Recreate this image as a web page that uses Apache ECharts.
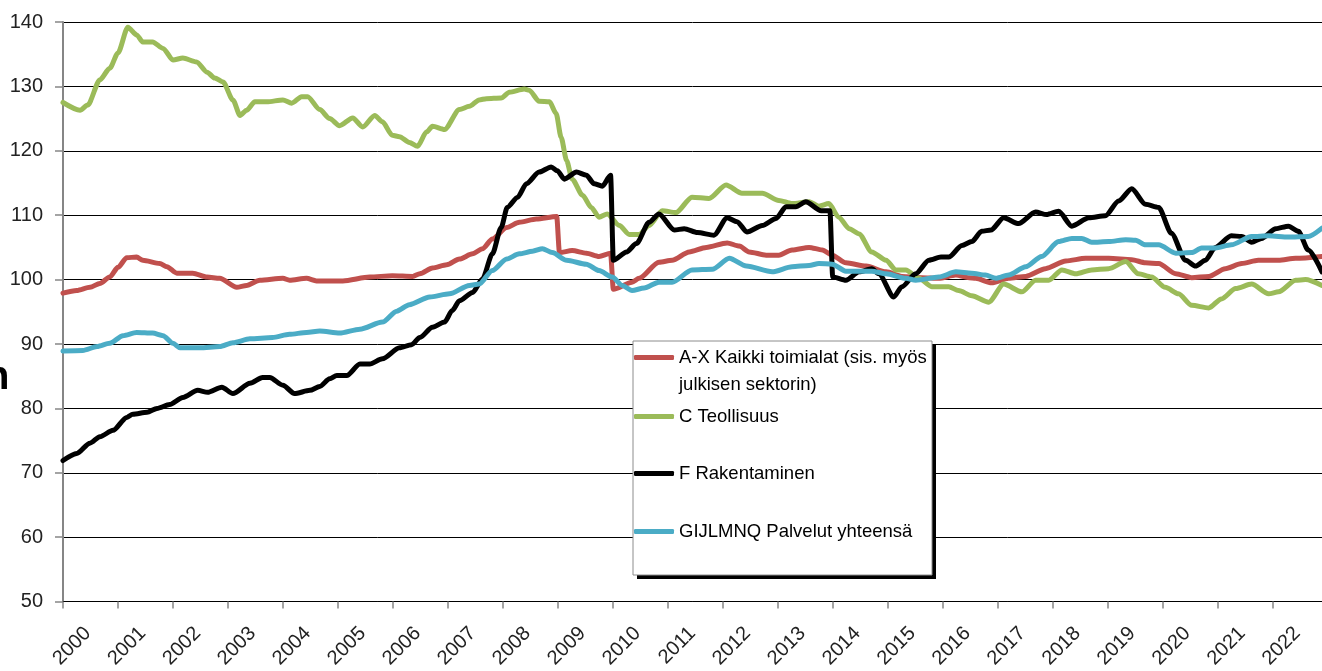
<!DOCTYPE html>
<html>
<head>
<meta charset="utf-8">
<script src="https://cdn.jsdelivr.net/npm/echarts@6/dist/echarts.min.js"></script>
<style>
  html, body { margin: 0; padding: 0; background: #fff; }
  #chart { width: 1322px; height: 671px; }
</style>
</head>
<body>
<div id="chart"></div>
<script>
// vuosiakselin tikit
var years = [];
for (var y = 2000; y <= 2022; y++) years.push(y);

var seriesNames = [
    'A-X Kaikki toimialat (sis. myös\njulkisen sektorin)',
    'C Teollisuus',
    'F Rakentaminen',
    'GIJLMNQ Palvelut yhteensä'
];

// [vuosi, indeksi]
var kaikkiData = [
    [2000.00, 97.9], [2000.25, 98.3], [2000.49, 98.8], [2000.67, 99.4], [2000.85, 100.4], [2001.00, 101.9],
    [2001.16, 103.4], [2001.34, 103.5], [2001.45, 103.0], [2001.76, 102.5], [2001.89, 102.0], [2002.07, 101.0],
    [2002.36, 101.0], [2002.62, 100.4], [2002.85, 100.2], [2003.16, 98.8], [2003.34, 99.1], [2003.58, 99.9],
    [2004.00, 100.2], [2004.12, 99.9], [2004.43, 100.2], [2004.61, 99.8], [2005.09, 99.8], [2005.58, 100.4],
    [2005.99, 100.6], [2006.36, 100.5], [2006.49, 100.9], [2006.72, 101.8], [2006.98, 102.3], [2007.21, 103.2],
    [2007.45, 104.0], [2007.63, 104.8], [2007.81, 106.3], [2008.07, 108.1], [2008.30, 108.9], [2008.61, 109.4],
    [2008.98, 109.8], [2009.03, 104.2], [2009.26, 104.5], [2009.52, 104.1], [2009.75, 103.6], [2009.96, 104.1],
    [2010.01, 98.5], [2010.35, 99.6], [2010.48, 100.2], [2010.84, 102.7], [2011.08, 103.0], [2011.39, 104.3],
    [2011.70, 105.0], [2012.08, 105.7], [2012.30, 105.2], [2012.48, 104.3], [2012.79, 103.8], [2013.02, 103.8],
    [2013.26, 104.6], [2013.57, 105.0], [2013.81, 104.6], [2013.99, 103.8], [2014.24, 102.6], [2014.61, 102.1],
    [2014.97, 101.2], [2015.26, 100.5], [2015.62, 100.3], [2015.93, 100.2], [2016.24, 100.7], [2016.48, 100.3],
    [2016.60, 100.2], [2016.89, 99.5], [2017.20, 100.2], [2017.51, 100.5], [2017.87, 101.7], [2018.24, 102.9],
    [2018.60, 103.3], [2019.02, 103.3], [2019.44, 103.1], [2019.69, 102.6], [2019.93, 102.5], [2020.24, 100.9],
    [2020.53, 100.3], [2020.84, 100.5], [2021.14, 101.7], [2021.44, 102.5], [2021.74, 103.0], [2022.11, 103.0],
    [2022.42, 103.3], [2022.90, 103.6]
];

var teollisuusData = [
    [2000.00, 127.5], [2000.31, 126.3], [2000.45, 127.1], [2000.67, 131.0], [2000.85, 132.8], [2001.00, 135.2],
    [2001.18, 139.2], [2001.34, 138.0], [2001.45, 136.9], [2001.63, 136.9], [2001.82, 135.9], [2002.00, 134.1],
    [2002.18, 134.4], [2002.43, 133.8], [2002.62, 132.2], [2002.76, 131.3], [2002.91, 130.7], [2003.09, 127.9],
    [2003.22, 125.5], [2003.34, 126.3], [2003.49, 127.6], [2003.71, 127.6], [2004.00, 127.9], [2004.16, 127.4],
    [2004.34, 128.4], [2004.45, 128.4], [2004.67, 126.4], [2004.85, 125.0], [2005.03, 123.9], [2005.27, 125.1],
    [2005.45, 123.7], [2005.67, 125.5], [2005.81, 124.5], [2005.99, 122.4], [2006.12, 122.2], [2006.30, 121.3],
    [2006.45, 120.7], [2006.61, 122.9], [2006.72, 123.8], [2006.94, 123.3], [2007.21, 126.4], [2007.39, 126.9],
    [2007.57, 127.9], [2007.70, 128.1], [2007.97, 128.2], [2008.12, 129.1], [2008.39, 129.6], [2008.48, 129.4],
    [2008.66, 127.7], [2008.85, 127.6], [2008.97, 125.8], [2009.06, 122.1], [2009.16, 118.5], [2009.26, 115.6],
    [2009.45, 113.1], [2009.61, 111.2], [2009.75, 109.7], [2009.90, 110.2], [2010.12, 108.4], [2010.30, 107.0],
    [2010.48, 107.0], [2010.66, 108.4], [2010.90, 110.7], [2011.15, 110.4], [2011.44, 112.8], [2011.75, 112.6],
    [2012.06, 114.7], [2012.35, 113.4], [2012.72, 113.4], [2013.02, 112.3], [2013.26, 111.8], [2013.57, 112.1],
    [2013.75, 111.4], [2013.93, 111.8], [2014.11, 109.7], [2014.30, 107.9], [2014.48, 107.1], [2014.71, 104.3],
    [2014.97, 103.0], [2015.15, 101.5], [2015.33, 101.5], [2015.57, 100.2], [2015.80, 98.9], [2016.11, 98.9],
    [2016.29, 98.3], [2016.53, 97.5], [2016.84, 96.5], [2017.11, 99.3], [2017.44, 98.1], [2017.69, 99.9],
    [2017.93, 99.9], [2018.17, 101.5], [2018.42, 100.9], [2018.71, 101.5], [2019.02, 101.7], [2019.33, 102.8],
    [2019.56, 100.9], [2019.80, 100.4], [2020.05, 98.8], [2020.29, 97.8], [2020.53, 96.0], [2020.84, 95.6],
    [2021.07, 97.0], [2021.33, 98.6], [2021.62, 99.3], [2021.93, 97.8], [2022.11, 98.1], [2022.42, 99.9],
    [2022.60, 100.0], [2022.90, 99.1]
];

var rakentaminenData = [
    [2000.00, 71.9], [2000.25, 73.0], [2000.49, 74.6], [2000.67, 75.6], [2000.91, 76.6], [2001.16, 78.6],
    [2001.27, 79.1], [2001.53, 79.4], [2001.71, 80.0], [2001.94, 80.6], [2002.18, 81.7], [2002.45, 82.8],
    [2002.63, 82.5], [2002.89, 83.3], [2003.09, 82.3], [2003.40, 83.9], [2003.63, 84.8], [2003.76, 84.8],
    [2004.00, 83.6], [2004.21, 82.3], [2004.49, 82.8], [2004.67, 83.4], [2004.85, 84.6], [2004.98, 85.1],
    [2005.16, 85.1], [2005.40, 86.9], [2005.58, 86.9], [2005.81, 87.7], [2006.12, 89.4], [2006.34, 89.9],
    [2006.49, 91.0], [2006.72, 92.6], [2006.94, 93.4], [2007.08, 95.2], [2007.21, 96.7], [2007.45, 98.0],
    [2007.63, 100.1], [2007.81, 104.0], [2007.97, 108.1], [2008.08, 111.2], [2008.27, 112.8], [2008.43, 114.9],
    [2008.66, 116.7], [2008.88, 117.5], [2008.99, 116.9], [2009.12, 115.6], [2009.34, 116.7], [2009.52, 116.2],
    [2009.66, 114.9], [2009.81, 114.5], [2009.96, 116.2], [2010.01, 103.0], [2010.25, 104.3], [2010.43, 105.6],
    [2010.66, 108.9], [2010.84, 110.2], [2011.12, 107.7], [2011.30, 107.9], [2011.54, 107.3], [2011.84, 106.9],
    [2012.08, 109.6], [2012.26, 109.0], [2012.44, 107.4], [2012.72, 108.4], [2012.97, 109.5], [2013.15, 111.3],
    [2013.33, 111.3], [2013.51, 112.1], [2013.79, 110.7], [2013.95, 110.7], [2014.00, 100.4], [2014.24, 99.9],
    [2014.48, 101.2], [2014.71, 101.7], [2014.84, 100.9], [2015.11, 97.3], [2015.26, 98.9], [2015.51, 100.9],
    [2015.75, 103.0], [2015.97, 103.5], [2016.11, 103.5], [2016.35, 105.3], [2016.53, 105.9], [2016.71, 107.5],
    [2016.88, 107.7], [2017.11, 109.6], [2017.38, 108.7], [2017.69, 110.5], [2017.89, 110.1], [2018.11, 110.6],
    [2018.35, 108.3], [2018.66, 109.6], [2018.96, 109.9], [2019.20, 112.2], [2019.44, 114.1], [2019.69, 111.7],
    [2019.93, 111.2], [2020.16, 107.2], [2020.42, 103.0], [2020.60, 102.1], [2020.78, 103.0], [2020.96, 105.0],
    [2021.25, 106.8], [2021.44, 106.7], [2021.62, 105.8], [2021.80, 106.4], [2022.06, 107.9], [2022.29, 108.3],
    [2022.47, 107.5], [2022.65, 104.6], [2022.90, 101.2]
];

var palvelutData = [
    [2000.00, 88.9], [2000.36, 89.0], [2000.62, 89.6], [2000.85, 90.1], [2001.09, 91.3], [2001.34, 91.8],
    [2001.63, 91.7], [2001.82, 91.3], [2002.00, 90.1], [2002.13, 89.4], [2002.49, 89.4], [2002.85, 89.6],
    [2003.09, 90.2], [2003.40, 90.8], [2003.81, 91.0], [2004.12, 91.5], [2004.43, 91.8], [2004.67, 92.0],
    [2005.03, 91.7], [2005.40, 92.3], [2005.81, 93.4], [2006.07, 95.1], [2006.30, 96.1], [2006.67, 97.3],
    [2007.03, 97.8], [2007.39, 99.1], [2007.57, 99.3], [2007.81, 101.4], [2008.07, 103.2], [2008.30, 104.0],
    [2008.54, 104.4], [2008.72, 104.8], [2008.90, 104.2], [2009.16, 103.0], [2009.52, 102.4], [2009.75, 101.4],
    [2009.99, 100.4], [2010.17, 99.1], [2010.35, 98.3], [2010.57, 98.7], [2010.84, 99.6], [2011.08, 99.6],
    [2011.44, 101.5], [2011.81, 101.6], [2012.12, 103.3], [2012.43, 102.1], [2012.90, 101.2], [2013.26, 102.0],
    [2013.57, 102.2], [2013.75, 102.5], [2013.99, 102.4], [2014.24, 101.3], [2014.71, 101.3], [2014.97, 100.9],
    [2015.33, 100.2], [2015.51, 99.9], [2015.93, 100.4], [2016.24, 101.2], [2016.53, 101.0], [2016.78, 100.7],
    [2016.97, 100.2], [2017.20, 100.7], [2017.51, 102.0], [2017.80, 103.6], [2018.11, 105.9], [2018.35, 106.4],
    [2018.53, 106.4], [2018.71, 105.8], [2019.02, 105.9], [2019.33, 106.2], [2019.51, 106.1], [2019.69, 105.4],
    [2019.93, 105.4], [2020.24, 104.1], [2020.53, 104.2], [2020.71, 104.9], [2020.96, 104.9], [2021.25, 105.4],
    [2021.62, 106.7], [2021.93, 106.8], [2022.29, 106.6], [2022.65, 106.7], [2022.90, 108.0]
];

var seriesData = [kaikkiData, teollisuusData, rakentaminenData, palvelutData];
var seriesColors = ['#C0504D', '#9BBB59', '#000000', '#4BACC6'];
// selitteen rivien yläreunat
var legendTops = [317, 405, 462, 520];

var lineSeries = seriesData.map(function (d, i) {
    return {
        name: seriesNames[i],
        type: 'line',
        data: d,
        showSymbol: false,
        smooth: 0.25,
        smoothMonotone: 'x',
        lineStyle: { width: 5, color: seriesColors[i], cap: 'round', join: 'round' },
        itemStyle: { color: seriesColors[i] },
        emphasis: { disabled: true },
        animation: false
    };
});

var legends = seriesNames.map(function (name, i) {
    var ts = { fontSize: 18.5, color: '#000', fontFamily: 'Liberation Sans, Arial, sans-serif' };
    var lg = {
        data: [name],
        orient: 'vertical',
        left: 634,
        top: legendTops[i],
        padding: 0,
        itemWidth: 40,
        itemHeight: 5,
        icon: 'roundRect',
        selectedMode: false,
        textStyle: ts,
        z: 20
    };
    if (i === 0) {
        // kaksirivinen teksti: tyhjä ylärivi pitää ensimmäisen rivin viivan kohdalla
        ts.lineHeight = 27;
        lg.formatter = function (n) { return ' \n' + n; };
    } else {
        ts.lineHeight = 23;
    }
    return lg;
});

var chart = echarts.init(document.getElementById('chart'));
chart.setOption({
    backgroundColor: '#fff',
    animation: false,
    textStyle: { fontFamily: 'Liberation Sans, Arial, sans-serif' },
    grid: { left: 63, right: 0, top: 22, bottom: 69 },
    xAxis: {
        type: 'value',
        min: 2000,
        max: 2022.9,
        interval: 1,
        splitLine: { show: false },
        axisLine: { lineStyle: { color: '#000', width: 1 } },
        axisTick: { show: true, length: 7, lineStyle: { color: '#868686', width: 1.5 }, customValues: years },
        axisLabel: {
            customValues: years,
            rotate: 45,
            fontSize: 20,
            color: '#222',
            margin: 4,
            verticalAlign: 'top',
            padding: [25, 0, 0, 0],
            formatter: function (v) { return Number.isInteger(v) ? String(v) : ''; }
        }
    },
    yAxis: {
        type: 'value',
        min: 50,
        max: 140,
        interval: 10,
        axisLine: { show: true, lineStyle: { color: '#868686', width: 2 } },
        axisTick: { show: true, length: 8, lineStyle: { color: '#868686', width: 1.5 } },
        axisLabel: { fontSize: 20, color: '#222', margin: 20 },
        splitLine: { lineStyle: { color: '#000', width: 1 } }
    },
    legend: legends,
    graphic: [
        { type: 'rect', z: 15, shape: { x: 637, y: 345, width: 299, height: 234 }, style: { fill: '#000' } },
        { type: 'rect', z: 16, shape: { x: 633, y: 341, width: 299, height: 234 }, style: { fill: '#fff', stroke: '#8c8c8c', lineWidth: 1 } },
        { type: 'text', z: 16, style: { text: 'n', x: -15, y: 378, verticalAlign: 'middle', font: 'bold 40px Liberation Sans, Arial, sans-serif', fill: '#000' } }
    ],
    series: lineSeries
});
</script>
</body>
</html>
